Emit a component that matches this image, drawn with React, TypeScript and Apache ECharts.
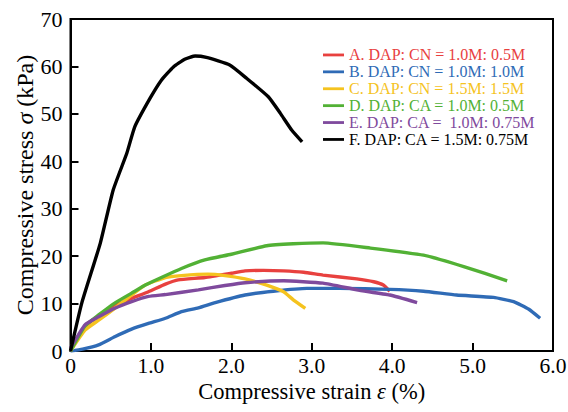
import React, { useEffect, useRef } from "react";
import * as echarts from "echarts";

const names = [
  "A. DAP: CN = 1.0M: 0.5M",
  "B. DAP: CN = 1.0M: 1.0M",
  "C. DAP: CN = 1.5M: 1.5M",
  "D. DAP: CA = 1.0M: 0.5M",
  "E. DAP: CA =  1.0M: 0.75M",
  "F. DAP: CA = 1.5M: 0.75M",
];
const colors = ["#e8413f", "#2f6bb6", "#f5c31f", "#52b135", "#7f4a9d", "#000000"];

const xA = [0, 0.18, 0.35, 0.55, 0.76, 0.97, 1.18, 1.34, 1.67, 2.0, 2.17, 2.4, 2.65, 2.9, 3.14, 3.56, 3.77, 3.89, 3.97];
const yA = [0, 5.2, 7.4, 9.6, 11.1, 12.5, 14.1, 15.0, 15.5, 16.4, 16.9, 17.0, 16.9, 16.6, 16.0, 15.2, 14.6, 13.9, 12.6];

const xB = [0, 0.15, 0.35, 0.55, 0.76, 0.97, 1.18, 1.38, 1.59, 1.8, 2.17, 2.52, 2.94, 3.35, 3.97, 4.39, 4.8, 5.26, 5.51, 5.7, 5.84];
const yB = [0, 0.4, 1.3, 3.0, 4.6, 5.8, 6.9, 8.3, 9.1, 10.2, 11.8, 12.6, 13.2, 13.2, 13.0, 12.6, 11.8, 11.3, 10.4, 8.8, 6.9];

const xC = [0, 0.18, 0.35, 0.55, 0.76, 0.93, 1.18, 1.38, 1.71, 1.92, 2.17, 2.44, 2.65, 2.77, 2.92];
const yC = [0, 4.4, 6.5, 9.0, 11.8, 13.9, 15.5, 15.9, 16.2, 15.9, 15.2, 13.9, 12.5, 10.8, 9.0];

const xD = [0, 0.18, 0.35, 0.55, 0.76, 0.93, 1.13, 1.38, 1.67, 2.0, 2.44, 2.77, 3.14, 3.73, 4.39, 4.89, 5.43];
const yD = [0, 5.3, 7.6, 10.1, 12.2, 13.9, 15.5, 17.4, 19.2, 20.4, 22.2, 22.6, 22.8, 21.7, 20.2, 17.8, 14.8];

const xE = [0, 0.18, 0.35, 0.55, 0.76, 0.97, 1.18, 1.59, 1.92, 2.17, 2.65, 3.14, 3.56, 3.97, 4.31];
const yE = [0.6, 5.5, 7.2, 9.0, 10.4, 11.5, 11.9, 12.9, 13.8, 14.4, 14.8, 14.3, 12.9, 11.8, 10.2];

const xF = [0, 0.14, 0.37, 0.53, 0.7, 0.8, 0.99, 1.13, 1.28, 1.42, 1.55, 1.69, 1.98, 2.19, 2.46, 2.61, 2.75, 2.88];
const yF = [0, 10.1, 22.7, 33.9, 41.7, 47.3, 53.3, 57.1, 59.9, 61.5, 62.2, 61.9, 60.3, 57.5, 53.6, 50.1, 46.6, 44.1];

const xs = [xA, xB, xC, xD, xE, xF];
const ys = [yA, yB, yC, yD, yE, yF];

const FONT = "Liberation Serif";

export default function App() {
  const ref = useRef<HTMLDivElement>(null);
  useEffect(() => {
    if (!ref.current) return;
    const chart = echarts.init(ref.current, null, { renderer: "svg" });
    const series = names.map((n, i) => ({
      name: n,
      type: "line",
      data: xs[i].map((x, j) => [x, ys[i][j]]),
      showSymbol: false,
      symbol: "none",
      smooth: 0.15,
      lineStyle: { color: colors[i], width: 3.4 },
      itemStyle: { color: colors[i] },
      z: i === 5 ? 5 : 3,
    }));
    const nameStyle = (size: number) => ({
      fontSize: size,
      color: "#000",
      fontFamily: FONT,
      rich: { i: { fontStyle: "italic", fontSize: size, fontFamily: FONT, color: "#000" } },
    });
    chart.setOption({
      animation: false,
      backgroundColor: "#fff",
      textStyle: { fontFamily: FONT },
      grid: {
        left: 70.5,
        right: 15,
        top: 19,
        bottom: 61,
        outerBoundsMode: "none",
        containLabel: false,
        show: true,
        borderColor: "#000",
        borderWidth: 2,
        backgroundColor: "transparent",
      },
      legend: {
        orient: "vertical",
        left: 318,
        top: 41.5,
        icon: "rect",
        itemWidth: 21,
        itemHeight: 2.8,
        itemGap: 0,
        textStyle: { fontSize: 16, fontFamily: FONT, lineHeight: 16.9 },
        data: names.map((n, i) => ({ name: n, textStyle: { color: colors[i], fontFamily: FONT, fontSize: 16, lineHeight: 16.9 } })),
      },
      xAxis: {
        type: "value",
        min: 0,
        max: 6,
        interval: 1,
        name: "Compressive strain {i|ε} (%)",
        nameLocation: "middle",
        nameGap: 29,
        nameMoveOverlap: false,
        nameTextStyle: nameStyle(22.5),
        axisLine: { show: true, lineStyle: { color: "#000", width: 2 } },
        axisTick: { show: true, inside: true, length: 8, lineStyle: { color: "#000", width: 2 } },
        splitLine: { show: false },
        axisLabel: {
          fontSize: 21.5,
          color: "#000",
          fontFamily: FONT,
          margin: 4,
          formatter: (v: number) => (v === 0 ? "0" : v.toFixed(1)),
        },
      },
      yAxis: {
        type: "value",
        min: 0,
        max: 70,
        interval: 10,
        name: "Compressive stress {i|σ} (kPa)",
        nameLocation: "middle",
        nameGap: 34,
        nameMoveOverlap: false,
        nameTextStyle: nameStyle(24),
        axisLine: { show: true, lineStyle: { color: "#000", width: 2 } },
        axisTick: { show: true, inside: true, length: 8, lineStyle: { color: "#000", width: 2 } },
        splitLine: { show: false },
        axisLabel: { fontSize: 22, color: "#000", fontFamily: FONT, margin: 8 },
      },
      series,
    });
    return () => chart.dispose();
  }, []);
  return (
    <div
      ref={ref}
      style={{ position: "absolute", left: 0, top: 0, width: 568, height: 412 }}
    />
  );
}
